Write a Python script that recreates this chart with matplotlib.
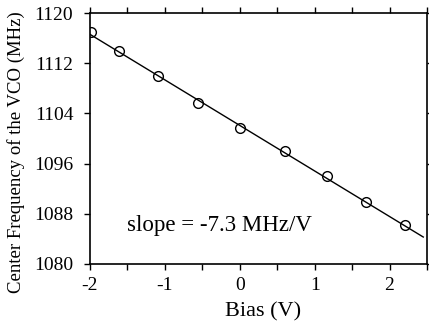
import matplotlib
matplotlib.use("Agg")
import matplotlib.pyplot as plt
from matplotlib.ticker import MultipleLocator

bias = [-1.99, -1.61, -1.09, -0.56, 0.0, 0.61, 1.16, 1.68, 2.20]
freq = [1116.9, 1113.9, 1109.9, 1105.7, 1101.7, 1098.0, 1094.0, 1089.9, 1086.2]
fit_x = [-2.0, 2.45]
fit_y = [1116.6, 1084.3]
xticks = [-2, -1, 0, 1, 2]
yticks = [1080, 1088, 1096, 1104, 1112, 1120]

plt.rcParams['font.family'] = ['Liberation Serif', 'DejaVu Serif']
plt.rcParams['axes.unicode_minus'] = False

fig = plt.figure(figsize=(4.29, 3.25), dpi=100)
ax = fig.add_axes([90/429, 61/325, 337/429, 251/325])

ax.plot(fit_x, fit_y, color='black', lw=1.0)
ax.plot(bias, freq, 'o', mfc='none', mec='black', ms=7, mew=1.0)

ax.set_xlim(-2, 2.5)
ax.set_ylim(1080, 1120)
ax.set_xticks(xticks)
ax.set_yticks(yticks)
ax.xaxis.set_minor_locator(MultipleLocator(0.5))
ax.tick_params(which='both', direction='out', top=True, right=True,
               labeltop=False, labelright=False, labelsize=14, width=1.0)
ax.tick_params(which='major', length=4)
ax.tick_params(axis='x', which='major', pad=5)
ax.tick_params(axis='y', which='major', pad=8)
ax.tick_params(which='minor', length=4)
for s in ax.spines.values():
    s.set_linewidth(1.2)

ax.set_xlabel('Bias (V)', fontsize=16)
ax.xaxis.set_label_coords(173/337, -38/251)
ax.set_ylabel('Center Frequency of the VCO (MHz)', fontsize=13.5)
ax.yaxis.set_label_coords(-65/337, 0.446)
ax.text(-1.5, 1086.2, 'slope = -7.3 MHz/V', fontsize=16.5, va='center', ha='left')

fig.savefig('out.png', dpi=100)
